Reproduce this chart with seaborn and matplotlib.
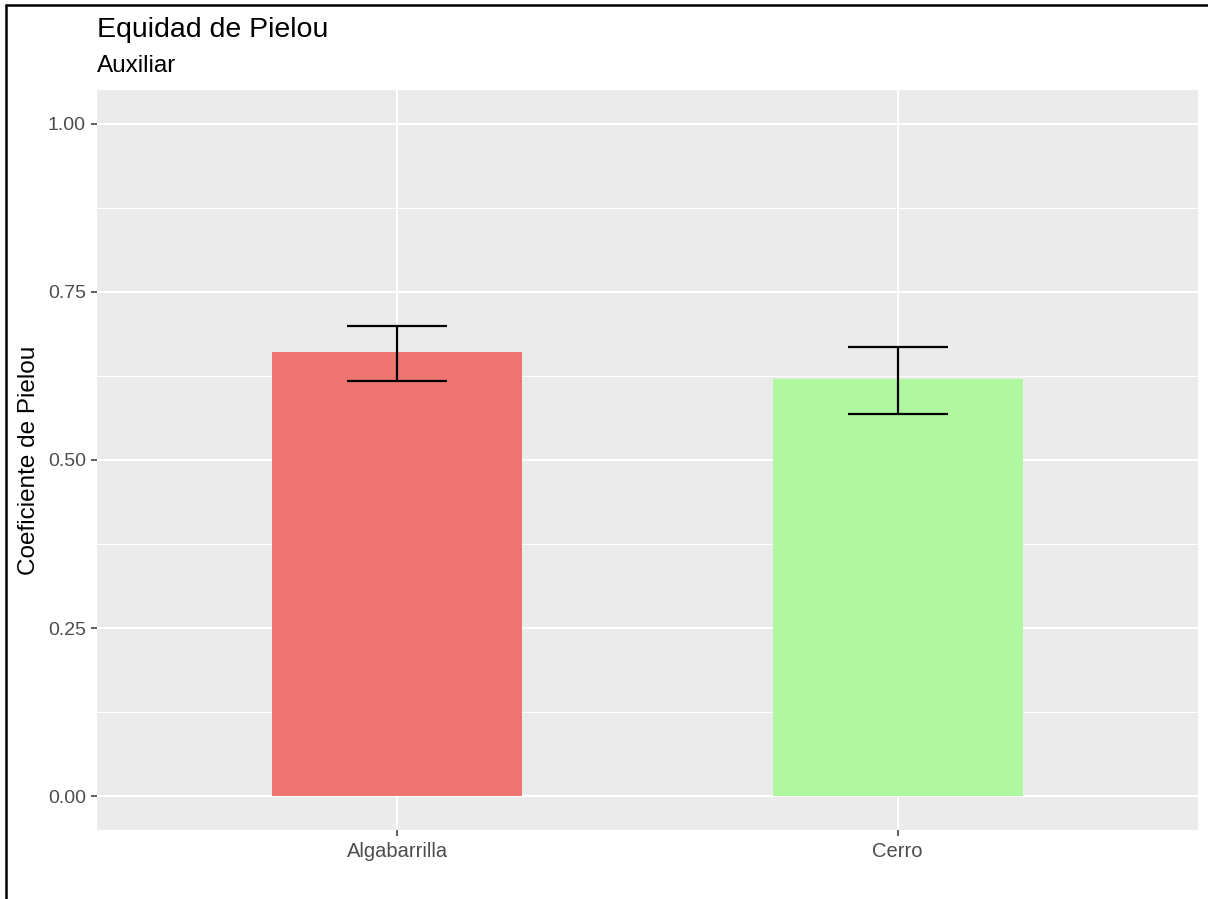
import matplotlib
matplotlib.use("Agg")
import matplotlib.pyplot as plt
from matplotlib.lines import Line2D
from matplotlib.ticker import MultipleLocator
import seaborn as sns
import pandas as pd

# Pielou evenness per site (mean with lower / upper bounds)
sites = ["Algabarrilla", "Cerro"]
pielou_mean = [0.661, 0.621]
pielou_low = [0.617, 0.568]
pielou_high = [0.699, 0.668]
bar_colors = ["#ED7470", "#AFF8A0"]
y_ticks = [0.00, 0.25, 0.50, 0.75, 1.00]
y_tick_labels = ["0.00", "0.25", "0.50", "0.75", "1.00"]

df = pd.DataFrame({"sitio": sites, "pielou": pielou_mean})

sns.set_theme(style="darkgrid", rc={
    "axes.facecolor": "#EBEBEB",
    "grid.color": "white",
    "axes.edgecolor": "#EBEBEB",
})
plt.rcParams["font.family"] = ["Liberation Sans", "DejaVu Sans"]

W, H = 1208, 899
fig = plt.figure(figsize=(W / 100, H / 100), dpi=100)
fig.patch.set_facecolor("white")
ax = fig.add_axes([97 / W, (H - 830) / H, (1198 - 97) / W, (830 - 90) / H])

sns.barplot(data=df, x="sitio", y="pielou", hue="sitio", palette=bar_colors,
            width=0.5, errorbar=None, legend=False, ax=ax, saturation=1,
            linewidth=0, zorder=3)

# error bars with flat caps
for i, (lo, hi) in enumerate(zip(pielou_low, pielou_high)):
    ax.vlines(i, lo, hi, color="black", linewidth=1.6, zorder=4)
    ax.hlines([lo, hi], i - 0.1, i + 0.1, color="black", linewidth=1.6, zorder=4)

ax.set_xlim(-0.6, 1.6)
ax.set_ylim(-0.05, 1.05)
ax.set_yticks(y_ticks)
ax.set_yticklabels(y_tick_labels)
ax.yaxis.set_minor_locator(MultipleLocator(0.125))
ax.grid(which="major", color="white", linewidth=1.5, zorder=0)
ax.grid(which="minor", axis="y", color="white", linewidth=0.75, zorder=0)
ax.set_axisbelow(True)
for s in ax.spines.values():
    s.set_visible(False)

ax.tick_params(axis="both", which="major", length=4.5, width=1.1, color="#333333",
               labelsize=14, labelcolor="#4D4D4D", bottom=True, left=True)
ax.tick_params(axis="x", labelsize=14.5, pad=4)
ax.tick_params(axis="y", pad=3.5)
ax.tick_params(which="minor", length=0)

ax.set_xlabel("")
ax.set_ylabel("Coeficiente de Pielou", fontsize=17.5, color="black", labelpad=6)

fig.text(97 / W, 1 - 37 / H, "Equidad de Pielou", fontsize=20.5, color="black",
         ha="left", va="baseline")
fig.text(97 / W, 1 - 72 / H, "Auxiliar", fontsize=17.5, color="black",
         ha="left", va="baseline")

# thin black frame along top and left edges
fig.add_artist(Line2D([5.5 / W, 1], [1 - 5 / H, 1 - 5 / H], transform=fig.transFigure,
                      color="black", linewidth=1.8))
fig.add_artist(Line2D([5.5 / W, 5.5 / W], [0, 1 - 5 / H], transform=fig.transFigure,
                      color="black", linewidth=1.8))

fig.savefig("out.png", dpi=100, facecolor="white")
